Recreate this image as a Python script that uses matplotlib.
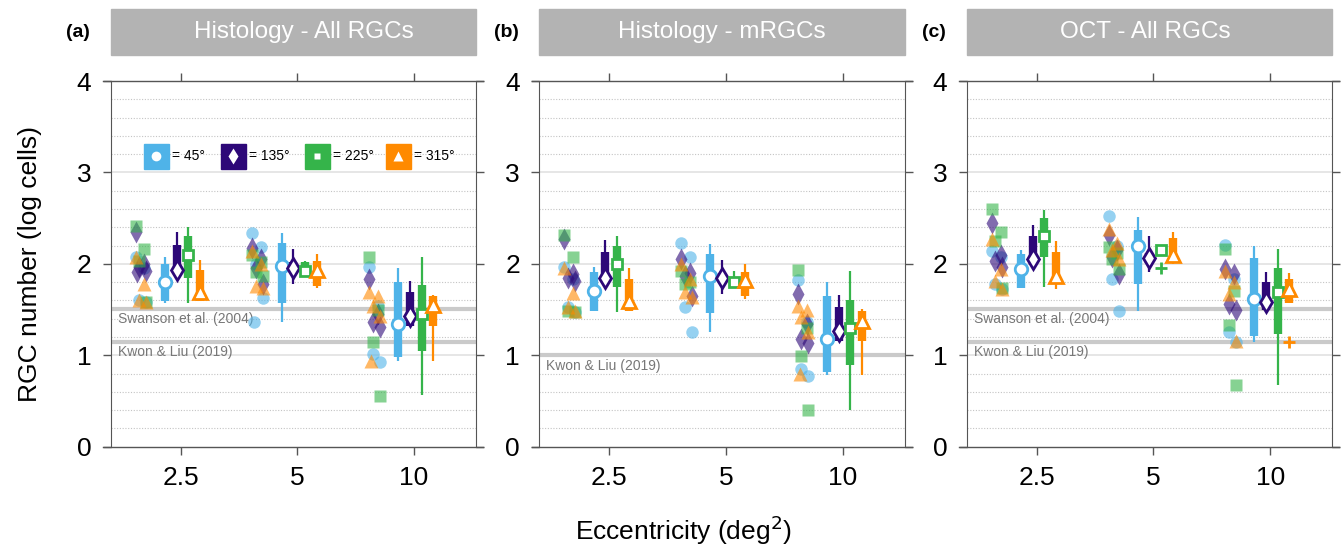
import numpy as np
import matplotlib.pyplot as plt
from matplotlib.patches import Rectangle

plt.rcParams['font.family'] = ['Liberation Sans', 'DejaVu Sans']

# categorias
ecc_labels = ['2.5', '5', '10']
angle_labels = ['= 45°', '= 135°', '= 225°', '= 315°']
panel_titles = ['Histology - All RGCs', 'Histology - mRGCs', 'OCT - All RGCs']
panel_tags = ['(a)', '(b)', '(c)']

# colores y marcadores por angulo polar
colors = ['#4FB3E8', '#2D0878', '#35B44A', '#FF8A00']
markers = ['o', 'd', 's', '^']

# estadisticas de caja: [ecc][angulo] -> (bigote inf, q1, mediana, q3, bigote sup)
box_a = [
    [(1.57, 1.59, 1.80, 2.00, 2.07), (1.92, 1.92, 1.93, 2.21, 2.35), (1.57, 1.85, 2.10, 2.30, 2.40), (1.59, 1.59, 1.69, 1.93, 2.04)],
    [(1.36, 1.57, 1.98, 2.23, 2.34), (1.78, 1.90, 1.96, 2.02, 2.16), (1.87, 1.87, 1.92, 2.02, 2.03), (1.74, 1.76, 1.93, 2.03, 2.11)],
    [(0.94, 0.98, 1.34, 1.80, 1.96), (1.32, 1.32, 1.43, 1.69, 1.81), (0.57, 1.05, 1.45, 1.77, 2.08), (0.94, 1.32, 1.55, 1.65, 1.66)],
]
box_b = [
    [(1.48, 1.48, 1.70, 1.91, 1.97), (1.84, 1.84, 1.85, 2.13, 2.26), (1.47, 1.75, 2.00, 2.20, 2.31), (1.48, 1.48, 1.59, 1.84, 1.96)],
    [(1.25, 1.46, 1.87, 2.11, 2.22), (1.67, 1.80, 1.85, 1.90, 2.04), (1.75, 1.75, 1.80, 1.86, 1.92), (1.62, 1.65, 1.82, 1.91, 2.00)],
    [(0.78, 0.82, 1.18, 1.65, 1.80), (1.16, 1.16, 1.27, 1.53, 1.66), (0.40, 0.89, 1.30, 1.61, 1.92), (0.78, 1.16, 1.37, 1.48, 1.51)],
]
box_c = [
    [(1.74, 1.74, 1.94, 2.11, 2.15), (1.99, 1.99, 2.05, 2.30, 2.42), (1.75, 2.07, 2.30, 2.50, 2.59), (1.72, 1.81, 1.87, 2.13, 2.25)],
    [(1.48, 1.78, 2.20, 2.37, 2.51), (1.91, 2.01, 2.06, 2.12, 2.31), (2.10, 2.12, 2.15, 2.18, 2.19), (2.00, 2.03, 2.10, 2.28, 2.35)],
    [(1.14, 1.21, 1.62, 2.06, 2.20), (1.50, 1.50, 1.58, 1.80, 1.91), (0.68, 1.23, 1.69, 1.95, 2.16), (1.57, 1.57, 1.72, 1.83, 1.90)],
]

# atipicos (+): [ecc][angulo]
out_a = [[[], [], [], []], [[], [], [], []], [[], [], [], []]]
out_b = [[[], [], [], []], [[], [], [], []], [[], [], [], []]]
out_c = [[[], [], [], []], [[], [], [1.95], []], [[], [], [], [1.15]]]

# sujetos individuales: [ecc][angulo] -> valores
pts_a = [
    [[2.07, 1.95, 1.61, 1.58], [2.35, 2.00, 1.97, 1.92, 1.91], [2.41, 2.16, 2.03, 1.58], [2.07, 1.78, 1.61, 1.58]],
    [[2.34, 2.19, 2.00, 1.63, 1.36], [2.17, 2.05, 1.96, 1.78], [2.10, 2.02, 1.91, 1.87], [2.14, 2.00, 1.76, 1.74]],
    [[1.97, 1.54, 1.01, 0.93], [1.83, 1.45, 1.36, 1.31], [2.08, 1.50, 1.14, 0.56], [1.69, 1.65, 1.54, 1.43, 0.94]],
]
pts_b = [
    [[1.97, 1.83, 1.53, 1.47], [2.27, 1.89, 1.85, 1.81], [2.32, 2.07, 1.48, 1.47], [1.96, 1.68, 1.53, 1.48]],
    [[2.23, 2.08, 1.53, 1.25], [2.05, 1.90, 1.87, 1.65], [1.92, 1.80, 1.78], [2.00, 1.83, 1.69, 1.64]],
    [[1.82, 1.36, 0.85, 0.77], [1.67, 1.34, 1.18, 1.13], [1.93, 1.30, 0.99, 0.40], [1.54, 1.50, 1.42, 1.26, 0.80]],
]
pts_c = [
    [[2.14, 2.07, 1.78, 1.72], [2.45, 2.10, 2.03, 1.97], [2.60, 2.35, 2.25, 1.74], [2.27, 1.94, 1.81, 1.72]],
    [[2.52, 2.20, 1.84, 1.48], [2.32, 2.15, 2.07, 1.89], [2.18, 2.12, 2.05, 1.94], [2.38, 2.23, 2.15, 2.05]],
    [[2.21, 1.83, 1.26, 1.15], [1.94, 1.89, 1.56, 1.50], [2.16, 1.70, 1.33, 0.68], [1.92, 1.80, 1.67, 1.16]],
]

# lineas de referencia (log celulas)
ref_a = [(1.51, 'Swanson et al. (2004)'), (1.15, 'Kwon & Liu (2019)')]
ref_b = [(1.00, 'Kwon & Liu (2019)')]
ref_c = [(1.51, 'Swanson et al. (2004)'), (1.15, 'Kwon & Liu (2019)')]

boxes = [box_a, box_b, box_c]
outs = [out_a, out_b, out_c]
pts = [pts_a, pts_b, pts_c]
refs = [ref_a, ref_b, ref_c]

box_off = [-0.135, -0.035, 0.065, 0.165]
jitter = [-0.045, 0.03, -0.015, 0.045, -0.03]
title_x = [0.53, 0.5, 0.49]

fig = plt.figure(figsize=(13.41, 5.49), dpi=100)
lefts = [0.0825, 0.4022, 0.7209]
spine_col = '#555555'

for p in range(3):
    ax = fig.add_axes([lefts[p], 0.1863, 0.2724, 0.6661])
    ax.set_xlim(-0.6, 2.53)
    ax.set_ylim(0, 4)

    # rejilla
    for v in np.arange(0.2, 4.0, 0.2):
        if abs(v - round(v)) < 1e-6:
            ax.axhline(v, color='#E4E4E4', lw=1.3, zorder=0)
        else:
            ax.axhline(v, color='#C4C4C4', lw=0.8, ls=(0, (1, 1.5)), zorder=0)

    for val, txt in refs[p]:
        ax.axhline(val, color='#CACACA', lw=3, zorder=1)
        ax.text(-0.54, val - 0.04, txt, fontsize=10, color='#777777', va='top', ha='left')

    for e in range(3):
        for k in range(4):
            vals = pts[p][e][k]
            xs = [e - 0.34 + jitter[i % len(jitter)] for i in range(len(vals))]
            ms = {'o': 9, 'd': 11, 's': 8, '^': 10}[markers[k]]
            ax.plot(xs, vals, ls='none', marker=markers[k], ms=ms, color=colors[k],
                    alpha=0.6, mec='none', zorder=3)

        for k in range(4):
            lo, q1, med, q3, hi = boxes[p][e][k]
            x = e + box_off[k]
            ax.vlines(x, lo, hi, color=colors[k], lw=1.6, zorder=4)
            ax.vlines(x, q1, q3, color=colors[k], lw=6, zorder=4)
            ms = {'o': 9, 'd': 10, 's': 7.5, '^': 10}[markers[k]]
            ax.plot(x, med, marker=markers[k], ms=ms, mfc='white', mec=colors[k],
                    mew=2, zorder=5)
            if outs[p][e][k]:
                ax.plot([x] * len(outs[p][e][k]), outs[p][e][k], ls='none', marker='+',
                        ms=8, mew=2, color=colors[k], zorder=5)

    ax.set_xticks(range(3))
    ax.set_xticklabels(ecc_labels)
    ax.set_yticks(range(5))
    ax.tick_params(direction='out', length=6, width=1, color=spine_col, top=True, right=True,
                   labelsize=19, pad=8)
    for s in ['left', 'right']:
        ax.spines[s].set_color(spine_col)
    for s in ['top', 'bottom']:
        ax.spines[s].set_visible(False)
    for yy in [0, 1]:
        ax.plot([-0.02, 1.02], [yy, yy], transform=ax.transAxes, color=spine_col,
                lw=1, clip_on=False, zorder=6)

    # cabecera gris
    ax.add_patch(Rectangle((0, 1.071), 1, 0.126, transform=ax.transAxes,
                           color='#B3B3B3', clip_on=False))
    ax.text(title_x[p], 1.134, panel_titles[p], transform=ax.transAxes, ha='center', va='center',
            color='white', fontsize=17.5)
    ax.text(-0.09, 1.134, panel_tags[p], transform=ax.transAxes, ha='center', va='center',
            fontsize=14, fontweight='bold')

    if p == 0:
        lx = [0.123, 0.335, 0.565, 0.786]
        for k in range(4):
            ax.plot(lx[k], 0.795, marker='s', ms=18, color=colors[k], transform=ax.transAxes,
                    clip_on=False, zorder=7)
            ax.plot(lx[k], 0.795, marker=markers[k], ms={'o': 7, 'd': 8, 's': 5, '^': 7}[markers[k]],
                    color='white', mec='none', transform=ax.transAxes, clip_on=False, zorder=8)
            ax.text(lx[k] + 0.045, 0.795, angle_labels[k], transform=ax.transAxes,
                    va='center', ha='left', fontsize=10)

fig.text(0.022, 0.52, 'RGC number (log cells)', rotation=90, ha='center', va='center', fontsize=19)
fig.text(0.51, 0.035, 'Eccentricity (deg$^2$)', ha='center', va='center', fontsize=19)

plt.savefig('out.png', dpi=100)
